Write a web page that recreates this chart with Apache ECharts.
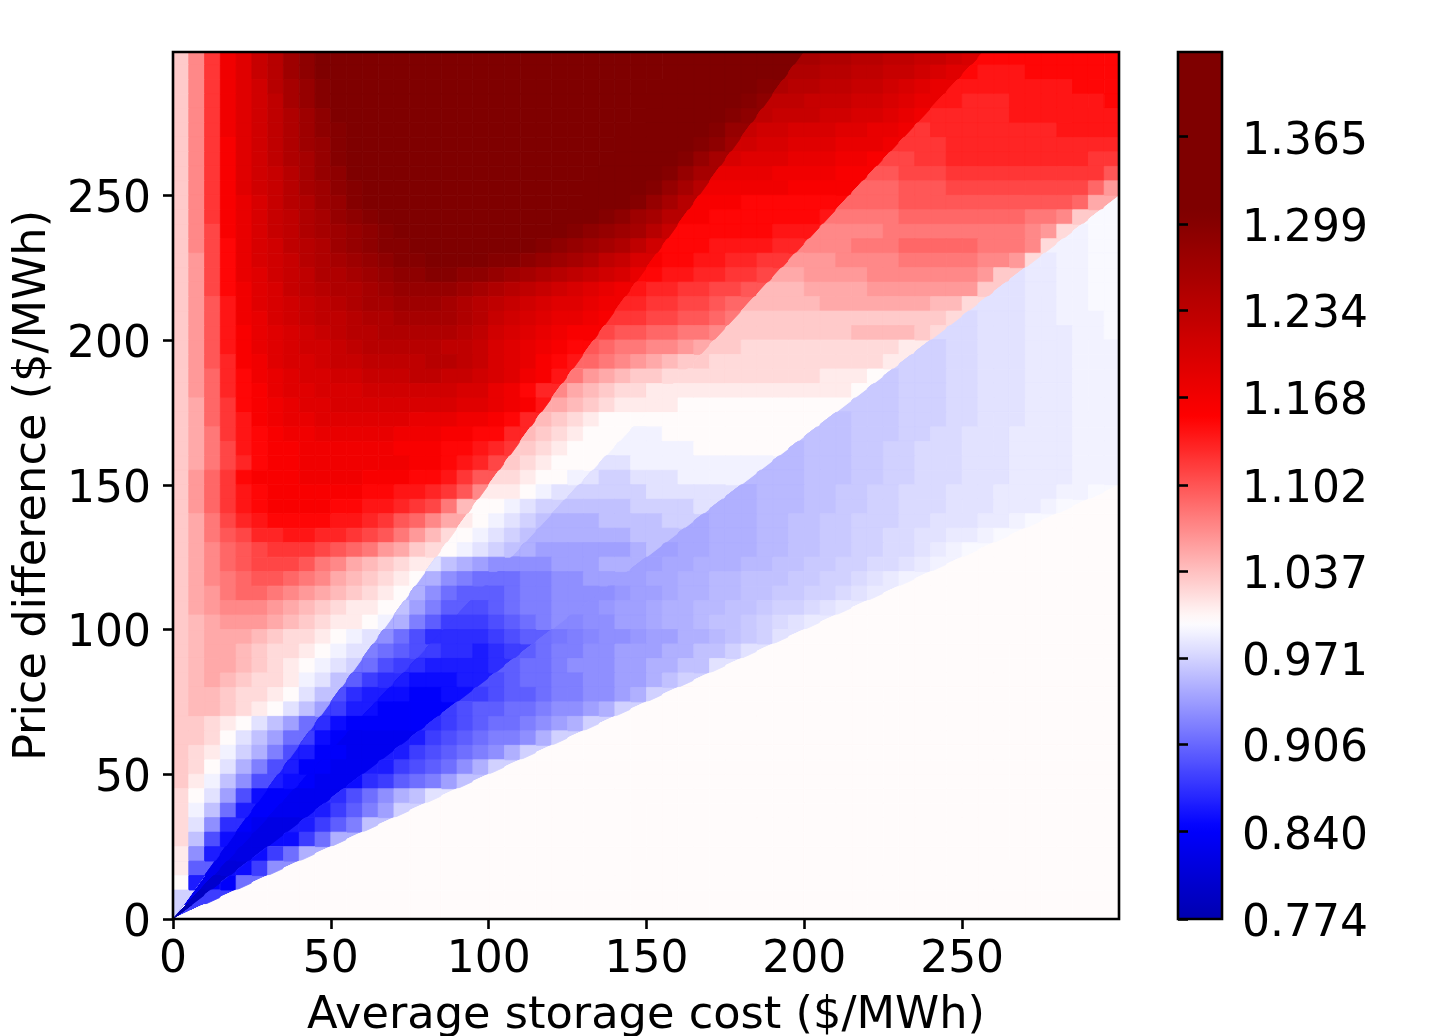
<!DOCTYPE html>
<html><head><meta charset="utf-8">
<style>html,body{margin:0;padding:0;background:#fff}#c{width:1450px;height:1036px}</style>
<script src="https://cdn.jsdelivr.net/npm/echarts@6/dist/echarts.min.js"></script>
</head><body><div id="c"></div>
<script>
// Ratio value in hundredths; rows run top (price difference 297.5) to bottom (2.5), columns left (storage cost 2.5) to right (297.5).
const ratioRows = [
[103,107,112,117,119,122,124,127,129,131,132,133,134,134,135,135,135,136,136,136,136,136,136,136,136,136,136,136,136,136,136,135,135,135,135,134,134,133,133,132,126,125,125,124,124,123,123,122,122,121,120,115,115,115,115,115,115,115,115,115],
[103,107,112,117,119,122,124,127,129,131,132,133,134,135,135,136,136,136,137,137,137,137,137,137,137,137,137,137,137,137,137,136,136,135,135,134,133,132,131,125,125,124,124,123,123,122,122,121,120,119,115,114,114,114,115,115,115,115,115,115],
[103,107,112,117,119,121,124,126,128,130,132,133,134,135,136,136,137,137,138,138,138,138,138,138,138,138,138,138,138,138,137,136,135,134,134,133,132,130,125,124,124,123,123,122,122,121,120,119,118,114,114,114,114,114,114,114,114,115,115,115],
[103,107,112,117,119,121,123,126,128,130,131,133,134,135,136,137,137,138,138,139,139,139,139,139,139,139,139,139,138,138,137,136,135,134,133,132,130,129,123,123,122,122,122,121,121,120,119,118,114,114,113,113,113,114,114,114,114,114,114,115],
[103,107,112,117,119,121,123,125,127,129,131,132,134,135,136,137,138,138,139,139,140,140,140,140,140,140,139,139,139,138,137,136,135,133,132,130,129,123,122,122,122,121,121,120,120,119,118,117,113,113,113,113,113,114,114,114,114,114,114,114],
[103,107,112,117,119,121,123,125,127,129,130,132,133,135,136,137,138,139,139,140,140,141,141,141,140,140,140,139,138,137,136,135,133,132,130,128,122,121,121,120,120,120,119,119,118,118,117,112,113,113,113,113,113,113,113,113,114,114,114,114],
[103,107,112,116,119,121,123,125,127,128,130,131,133,134,136,137,138,139,140,140,141,141,142,142,141,141,140,139,138,137,135,134,132,130,129,127,121,120,120,119,119,119,118,118,118,117,112,112,112,113,113,113,113,113,113,113,113,113,113,113],
[103,107,112,116,119,121,123,125,126,128,130,131,132,134,135,137,138,139,140,141,142,142,143,142,141,140,139,138,137,135,134,132,130,128,126,120,119,119,119,118,118,118,117,117,116,111,111,112,112,113,113,113,113,113,113,113,113,113,112,112],
[103,107,112,116,119,121,122,124,126,128,129,131,132,134,135,136,137,138,140,141,142,142,142,141,140,139,138,137,135,134,132,130,128,126,118,118,118,118,117,117,117,117,116,116,110,110,111,111,111,112,112,112,112,112,112,112,112,112,112,110],
[103,107,112,116,119,121,122,124,126,127,129,130,132,133,134,135,136,137,138,139,140,140,140,139,138,137,136,135,134,132,130,128,126,124,117,117,117,117,117,116,116,116,116,109,109,109,110,110,110,111,111,111,111,111,111,111,111,111,109,106],
[103,107,112,116,118,120,122,124,125,127,128,130,131,132,133,134,135,136,136,137,137,137,136,136,135,134,133,132,131,130,128,126,124,116,116,116,115,115,115,115,115,115,109,109,109,109,110,110,110,110,110,110,110,110,110,110,110,109,105,99.5],
[103,107,112,116,118,120,122,123,125,126,128,129,130,131,132,133,134,134,135,135,135,135,134,134,133,132,131,130,129,127,126,124,116,116,115,115,115,115,115,115,115,114,108,108,108,108,109,109,109,109,109,109,109,109,108,108,107,103,99.5,99.5],
[103,107,111,116,118,120,122,123,125,126,127,128,129,130,131,132,133,133,134,134,134,133,133,132,131,130,129,128,127,126,124,122,115,115,115,115,115,115,114,114,114,107,107,107,107,108,108,108,108,108,108,108,108,108,107,106,102,99,99.5,99.5],
[103,107,111,115,118,120,121,123,124,125,127,128,129,130,130,131,132,132,133,133,132,131,131,130,129,128,127,126,125,123,121,115,115,115,114,114,114,114,113,113,107,107,107,108,108,108,109,109,109,109,109,108,108,108,107,102,99,99,99.5,99.5],
[103,106,111,115,118,120,121,122,124,125,126,127,128,129,130,130,131,131,131,131,130,130,129,128,127,126,125,123,122,120,116,115,115,114,114,113,113,112,112,106,106,106,107,107,107,107,108,108,108,108,108,107,107,106,102,98.5,99,99,99.5,99.5],
[103,106,111,115,118,119,121,122,123,125,125,126,127,128,129,129,130,130,129,129,128,127,126,125,124,123,122,121,120,118,115,114,114,113,113,112,112,111,105,105,106,106,106,106,107,107,107,107,107,107,107,106,103,98,98.5,98.5,99,99,99.5,99.5],
[103,106,111,115,117,119,120,122,123,124,125,125,126,127,128,128,128,128,127,126,125,124,123,122,121,120,119,118,117,114,113,113,112,112,111,111,110,104,104,104,105,105,105,105,106,106,106,106,106,106,106,103,98,98,98.5,98.5,99,99,99.5,99.5],
[103,106,110,114,117,119,120,121,122,123,124,125,126,126,127,127,127,126,125,124,123,122,121,120,119,119,118,117,113,113,112,112,111,111,110,109,104,104,104,104,104,105,105,105,105,105,105,105,104,104,102,98,98,98,98.5,98.5,99,99,99.5,99.5],
[103,106,110,114,117,118,120,121,122,123,123,124,125,125,126,126,126,126,125,124,122,121,120,119,118,118,117,116,112,112,111,111,110,110,109,108,103,103,103,103,103,103,103,103,103,103,103,103,103,102,97.5,98,98,98,98.5,98.5,99,99,99,99.5],
[103,106,110,114,116,118,119,120,121,122,123,124,124,125,125,125,125,125,124,123,121,120,119,118,117,116,116,111,110,110,109,109,108,108,107,103,103,103,103,103,103,103,103,104,104,104,104,103,102,97.5,97.5,98,98,98,98.5,98.5,98.5,99,99,99.5],
[103,106,110,114,116,118,119,120,121,121,122,123,124,124,124,124,124,123,123,122,120,119,118,117,116,115,110,109,108,108,107,107,106,105,103,103,102,102,102,102,102,102,102,102,102,102,101,97,97,97.5,97.5,98,98,98,98.5,98.5,98.5,99,99,99],
[103,106,110,113,116,117,119,120,120,121,122,122,123,123,123,123,124,124,123,122,120,119,118,116,115,114,109,108,107,106,105,104,103,103,102,102,102,102,102,102,102,102,102,102,102,101,97,97,97,97.5,97.5,98,98,98,98.5,98.5,98.5,99,99,99],
[103,106,109,113,115,117,118,119,120,120,121,121,122,122,122,123,123,122,122,121,120,119,117,116,114,108,106,105,104,103,103,102,102,102,102,102,102,102,102,102,102,101,101,101,100,96.5,97,97,97,97.5,97.5,98,98,98,98.5,98.5,98.5,99,99,99],
[103,106,109,113,115,116,118,119,119,120,120,120,121,121,121,121,121,121,120,120,118,117,115,113,107,105,104,103,102,102,101,101,101,101,101,101,101,101,101,101,101,101,101,100,96.5,96.5,97,97,97,97.5,97.5,98,98,98,98.5,98.5,98.5,99,99,99],
[103,105,109,112,115,116,117,118,119,119,120,120,120,120,120,120,120,120,119,119,118,117,116,114,105,104,103,102,101,101,101,101,100,100,100,100,100,100,100,100,100,100,100,96.5,96.5,96.5,97,97,97,97.5,97.5,98,98,98,98.5,98.5,98.5,99,99,99],
[103,105,109,112,114,116,117,118,118,119,119,119,119,119,119,118,118,118,117,117,116,115,113,104,103,102,101,100,100,100,100,100,100,100,100,100,100,100,100,100,100,96,96,96.5,96.5,96.5,97,97,97,97.5,97.5,98,98,98,98.5,98.5,98.5,99,99,99],
[103,105,108,112,114,115,116,117,117,118,118,118,118,118,117,117,117,116,116,115,115,113,104,103,102,101,100,100,100,99,99,100,100,100,100,100,100,100,100,100,96,96,96,96.5,96.5,96.5,97,97,97.5,97.5,98,98,98,98.5,98.5,98.5,98.5,99,99,99],
[103,105,108,111,114,115,116,116,117,117,117,117,117,117,116,116,116,115,115,114,113,112,103,102,101,100,100,100,99,99,99,99,99,100,100,100,100,100,100,95.5,96,96,96,96.5,96.5,97,97,97.5,97.5,97.5,98,98,98,98.5,98.5,98.5,98.5,99,99,99],
[103,105,108,111,113,115,116,116,117,117,117,117,117,117,117,116,116,115,114,113,111,103,102,101,100,100,100,98,98,99,99,99,99,99,99,99,99,99,95.5,95.5,96,96,96,96.5,96.5,97,97,97.5,97.5,97.5,98,98,98,98.5,98.5,98.5,98.5,99,99,99],
[103,106,109,112,115,116,116,116,117,117,117,117,116,116,116,115,115,114,112,110,102,102,101,100,100,99,98,97,97,98,98,98,99,99,99,99,99,95.5,95.5,95.5,96,96,96,96.5,96.5,97,97,97.5,97.5,97.5,98,98,98,98.5,98.5,98.5,98.5,99,99,99],
[103,106,109,112,114,115,116,116,116,116,116,116,115,115,114,114,113,112,110,107,101,101,100,99,98,97,97,97,97,97,98,98,98,98,98,95,95,95.5,95.5,95.5,96,96,96.5,96.5,97,97,97.5,97.5,97.5,98,98,98,98.5,98.5,98.5,98.5,99,99,99.5,100],
[103,106,109,112,114,115,116,116,116,116,115,115,114,114,113,112,111,108,104,100,100,99,98,97,96,96,96,96,96,97,97,97,97,98,95,95,95,95.5,95.5,95.5,96,96,96.5,96.5,97,97,97.5,97.5,97.5,98,98,98,98.5,98.5,98.5,99,99.5,100,100,100],
[103,105,108,111,113,114,115,115,115,115,114,114,113,112,110,109,107,105,101,100,99,98,97,96,95,95,95,96,96,96,96,97,97,94.5,95,95,95,95.5,95.5,96,96,96.5,96.5,97,97,97,97.5,97.5,98,98,98,98.5,98.5,99,99.5,100,100,100,100,100],
[103,105,108,110,111,113,113,114,114,113,113,112,111,110,108,106,104,102,100,99,98,97,96,95,95,95,95,95,95,96,96,96,94.5,94.5,95,95,95,95.5,95.5,96,96,96.5,96.5,97,97,97.5,97.5,98,98,98.5,98.5,99,99.5,100,100,100,100,100,100,100],
[103,105,107,109,110,111,112,112,112,111,110,109,108,106,105,103,102,100,99,98,97,96,95,94,94,94,94,94,94,95,96,94,94.5,94.5,95,95,95,95.5,95.5,96,96,96.5,96.5,97,97,97.5,97.5,98,98.5,99,99.5,100,100,100,100,100,100,100,100,100],
[103,105,107,109,110,111,111,111,110,108,107,105,104,103,102,101,98,96,95,94,93,93,93,93,94,94,94,95,95,94,94,94.5,94.5,95,95,95,95.5,95.5,96,96,96.5,96.5,97,97,97.5,97.5,98,98.5,99,100,100,100,100,100,100,100,100,100,100,100],
[103,105,107,108,109,110,110,109,108,107,105,104,103,102,101,100,95,93,92,91,91,91,92,92,93,93,94,94,94,94,94.5,94.5,95,95,95.5,95.5,96,96,96,96.5,96.5,97,97,97.5,98,98.5,99,100,100,100,100,100,100,100,100,100,100,100,100,100],
[103,105,106,108,109,109,108,107,106,105,104,103,102,101,100,95,93,91,90,90,90,91,92,92,93,93,93,93,93.5,94,94,94.5,95,95,95.5,95.5,96,96,96.5,96.5,97,97,97.5,98,98.5,100,100,100,100,100,100,100,100,100,100,100,100,100,100,100],
[103,105,106,107,107,107,106,105,104,103,102,101,101,100,96,94,92,90,89,89,90,91,92,92,93,93,93,93.5,94,94,94.5,95,95,95.5,95.5,96,96,96.5,97,97,97.5,98,98.5,100,100,100,100,100,100,100,100,100,100,100,100,100,100,100,100,100],
[103,104,105,106,106,106,105,104,103,102,101,101,100,99,95,92,90,88,88,88,89,90,91,92,93,92.5,93,93,94,94,94.5,95,95,95.5,96,96,96.5,97,97.5,98,98.5,100,100,100,100,100,100,100,100,100,100,100,100,100,100,100,100,100,100,100],
[103,104,105,105,105,104,103,102,102,101,100,99,98,93,91,89,87,87,87,87,88,89,90,91,91.5,92,92.5,93,93,93.5,94,94,95,95,95.5,96,96.5,97,98,100,100,100,100,100,100,100,100,100,100,100,100,100,100,100,100,100,100,100,100,100],
[103,104,105,105,104,103,102,102,101,100,99,98,92,91,90,89,88,87,87,86,87,88,90,91,92,92,93,93,94,94,94,95,95,96,96,97,98,100,100,100,100,100,100,100,100,100,100,100,100,100,100,100,100,100,100,100,100,100,100,100],
[103,104,105,105,104,103,102,101,100,99,98,97,91,89,88,87,86,86,86,86,87,90,91,91,92,93,93,93,94,94,95,95,96,96,98,100,100,100,100,100,100,100,100,100,100,100,100,100,100,100,100,100,100,100,100,100,100,100,100,100],
[103,104,105,104,103,102,102,101,99,98,96,90,88,87,86,85,85,85,86,86,89,90,91,91,92,92,93,93,94,94,95,96,97,100,100,100,100,100,100,100,100,100,100,100,100,100,100,100,100,100,100,100,100,100,100,100,100,100,100,100],
[103,104,104,103,102,102,101,100,98,96,89,87,86,85,85,84,84,85,85,88,89,90,90,91,92,92,93,93,94,95,97,100,100,100,100,100,100,100,100,100,100,100,100,100,100,100,100,100,100,100,100,100,100,100,100,100,100,100,100,100],
[103,104,104,103,102,101,100,98,96,94,88,86,85,84,84,84,84,88,89,90,90,91,91,92,93,93,94,95,97,100,100,100,100,100,100,100,100,100,100,100,100,100,100,100,100,100,100,100,100,100,100,100,100,100,100,100,100,100,100,100],
[103,103,102,101,100,98,96,94,91,87,85,84,84,84,84,84,87,88,89,90,91,91,92,93,94,95,97,100,100,100,100,100,100,100,100,100,100,100,100,100,100,100,100,100,100,100,100,100,100,100,100,100,100,100,100,100,100,100,100,100],
[103,103,102,100,98,96,94,91,88,85,84,83,83,83,83,86,88,89,90,91,92,92,93,95,97,100,100,100,100,100,100,100,100,100,100,100,100,100,100,100,100,100,100,100,100,100,100,100,100,100,100,100,100,100,100,100,100,100,100,100],
[103,102,101,99,97,95,92,89,86,84,84,83,83,83,86,88,89,90,91,92,93,95,97,100,100,100,100,100,100,100,100,100,100,100,100,100,100,100,100,100,100,100,100,100,100,100,100,100,100,100,100,100,100,100,100,100,100,100,100,100],
[103,102,100,98,95,92,89,86,84,84,83,83,83,86,88,89,90,91,93,95,97,100,100,100,100,100,100,100,100,100,100,100,100,100,100,100,100,100,100,100,100,100,100,100,100,100,100,100,100,100,100,100,100,100,100,100,100,100,100,100],
[103,101,99,96,93,89,86,85,84,83,83,85,87,88,90,91,92,94,96,100,100,100,100,100,100,100,100,100,100,100,100,100,100,100,100,100,100,100,100,100,100,100,100,100,100,100,100,100,100,100,100,100,100,100,100,100,100,100,100,100],
[102,100,98,94,89,85,84,83,83,83,87,89,91,93,95,96,98,100,100,100,100,100,100,100,100,100,100,100,100,100,100,100,100,100,100,100,100,100,100,100,100,100,100,100,100,100,100,100,100,100,100,100,100,100,100,100,100,100,100,100],
[102,99,96,91,86,84,83,83,83,86,88,90,92,94,97,100,100,100,100,100,100,100,100,100,100,100,100,100,100,100,100,100,100,100,100,100,100,100,100,100,100,100,100,100,100,100,100,100,100,100,100,100,100,100,100,100,100,100,100,100],
[102,98,93,87,84,83,82,82,86,88,90,92,96,100,100,100,100,100,100,100,100,100,100,100,100,100,100,100,100,100,100,100,100,100,100,100,100,100,100,100,100,100,100,100,100,100,100,100,100,100,100,100,100,100,100,100,100,100,100,100],
[102,96,89,85,83,82,82,85,88,91,95,100,100,100,100,100,100,100,100,100,100,100,100,100,100,100,100,100,100,100,100,100,100,100,100,100,100,100,100,100,100,100,100,100,100,100,100,100,100,100,100,100,100,100,100,100,100,100,100,100],
[101,93,86,83,82,85,88,91,95,100,100,100,100,100,100,100,100,100,100,100,100,100,100,100,100,100,100,100,100,100,100,100,100,100,100,100,100,100,100,100,100,100,100,100,100,100,100,100,100,100,100,100,100,100,100,100,100,100,100,100],
[101,90,83,81,85,88,93,100,100,100,100,100,100,100,100,100,100,100,100,100,100,100,100,100,100,100,100,100,100,100,100,100,100,100,100,100,100,100,100,100,100,100,100,100,100,100,100,100,100,100,100,100,100,100,100,100,100,100,100,100],
[100,86,80,84,91,100,100,100,100,100,100,100,100,100,100,100,100,100,100,100,100,100,100,100,100,100,100,100,100,100,100,100,100,100,100,100,100,100,100,100,100,100,100,100,100,100,100,100,100,100,100,100,100,100,100,100,100,100,100,100],
[97,79,88,100,100,100,100,100,100,100,100,100,100,100,100,100,100,100,100,100,100,100,100,100,100,100,100,100,100,100,100,100,100,100,100,100,100,100,100,100,100,100,100,100,100,100,100,100,100,100,100,100,100,100,100,100,100,100,100,100],
[77,100,100,100,100,100,100,100,100,100,100,100,100,100,100,100,100,100,100,100,100,100,100,100,100,100,100,100,100,100,100,100,100,100,100,100,100,100,100,100,100,100,100,100,100,100,100,100,100,100,100,100,100,100,100,100,100,100,100,100]
];
const xTicks = [0,50,100,150,200,250];
const yTicks = [0,50,100,150,200,250];
const colorbarTicks = [0.774,0.840,0.906,0.971,1.037,1.102,1.168,1.234,1.299,1.365];
const wedgeRatios = [0, 0.5, 5/6, 7/6, 1.5, Infinity]; // price difference / storage cost at which the value jumps
const cellSize = 5;
const colorMin = 0.774, colorMax = 1.429;

function seismic(v){
  const t = Math.max(-2, Math.min(2, (v - 0.998) / 0.155));
  let r, g, b;
  if (t >= 1) { r = 255 - 128 * (t - 1); g = b = 0; }
  else if (t >= 0) { r = 255; g = b = 255 * (1 - t); }
  else if (t >= -1) { r = g = 255 * (1 + t); b = 255; }
  else { r = g = 0; b = 255 - 179 * (-t - 1); }
  return 'rgb(' + [r, g, b].map(Math.round).join(',') + ')';
}
const ramp = [];
for (let i = 0; i <= 131; i++) ramp.push(seismic(colorMin + (colorMax - colorMin) * i / 131));

function wedgeOf(x, y){
  const r = y / x;
  for (let i = 0; i < wedgeRatios.length - 1; i++) if (r < wedgeRatios[i + 1]) return i;
  return wedgeRatios.length - 2;
}
// keep the part of a polygon on one side of the ray y = ratio * x
function cut(poly, ratio, above){
  const out = [], f = p => (above ? 1 : -1) * (p[1] - ratio * p[0]);
  poly.forEach((p, i) => {
    const q = poly[(i + 1) % poly.length], a = f(p), b = f(q);
    if (a >= 0) out.push(p);
    if ((a >= 0) !== (b >= 0)) { const t = a / (a - b); out.push([p[0] + (q[0] - p[0]) * t, p[1] + (q[1] - p[1]) * t]); }
  });
  return out;
}

// every cell is painted inside its wedge; cells beside a jump are first painted wider (mostly along their own row)
// so the corners cut off by the neighbouring wedge are covered
const cells = [];
[[10, 10], [10, 0], [5, 0], [0, 0]].forEach(([mx, my]) => {
  ratioRows.forEach((row, i) => row.forEach((v, c) => {
    const x = (c + 0.5) * cellSize, y = (ratioRows.length - 1 - i + 0.5) * cellSize;
    if (mx) {
      const w = wedgeOf(x, y), hx = cellSize / 2 + mx, hy = cellSize / 2 + my;
      const lo = (y - hy) / (x + hx), hi = x - hx <= 0 ? Infinity : (y + hy) / (x - hx);
      if (lo >= wedgeRatios[w] && hi < wedgeRatios[w + 1]) return;
    }
    cells.push([x, y, v / 100, mx, my]);
  }));
});

function drawCell(params, api){
  const x = api.value(0), y = api.value(1), hx = cellSize / 2 + api.value(3), hy = cellSize / 2 + api.value(4), w = wedgeOf(x, y);
  let poly = [[x - hx, y - hy], [x + hx, y - hy], [x + hx, y + hy], [x - hx, y + hy]];
  if (wedgeRatios[w] > 0) poly = cut(poly, wedgeRatios[w], true);
  if (isFinite(wedgeRatios[w + 1]) && poly.length) poly = cut(poly, wedgeRatios[w + 1], false);
  if (poly.length < 3) return null;
  const color = api.visual('color');
  return { type: 'polygon', shape: { points: poly.map(p => api.coord(p)) },
    style: { fill: color, stroke: color, lineWidth: 0.8 } };
}

const font = 'DejaVu Sans', fs = 44, nameFs = 44.7, lw = 2.6;
const tick = { show: true, length: 10, lineStyle: { color: '#000', width: lw } };
const chart = echarts.init(document.getElementById('c'), null, { renderer: 'canvas' });
chart.setOption({
  animation: false,
  backgroundColor: '#fff',
  textStyle: { fontFamily: font },
  grid: [
    { left: 173, top: 52, width: 946, height: 867, show: true, z: 5, borderColor: '#000', borderWidth: lw, backgroundColor: 'transparent', outerBoundsMode: 'none', containLabel: false },
    { left: 1178, top: 52, width: 44, height: 867, show: true, z: 5, borderColor: '#000', borderWidth: lw, backgroundColor: 'transparent', outerBoundsMode: 'none', containLabel: false }
  ],
  xAxis: [
    { type: 'value', gridIndex: 0, position: 'bottom', min: 0, max: 299.7, z: 6,
      name: 'Average storage cost ($/MWh)', nameLocation: 'middle', nameGap: 75,
      nameTextStyle: { fontFamily: font, fontSize: nameFs, color: '#000' },
      axisLine: { show: false }, splitLine: { show: false },
      axisTick: Object.assign({}, tick, { customValues: xTicks }),
      axisLabel: { customValues: xTicks, fontFamily: font, fontSize: fs, color: '#000', margin: 20 } },
    { type: 'value', gridIndex: 1, min: 0, max: 1, show: false }
  ],
  yAxis: [
    { type: 'value', gridIndex: 0, position: 'left', min: 0, max: 299.5, z: 6,
      name: 'Price difference ($/MWh)', nameLocation: 'middle', nameGap: 92, nameRotate: 90,
      nameTextStyle: { fontFamily: font, fontSize: nameFs, color: '#000' },
      axisLine: { show: false }, splitLine: { show: false },
      axisTick: Object.assign({}, tick, { customValues: yTicks }),
      axisLabel: { customValues: yTicks, fontFamily: font, fontSize: fs, color: '#000', margin: 22, verticalAlign: 'top', lineHeight: 11 } },
    { type: 'value', gridIndex: 1, position: 'right', min: colorMin, max: colorMax, z: 6,
      axisLine: { show: false }, splitLine: { show: false },
      axisTick: Object.assign({}, tick, { customValues: colorbarTicks }),
      axisLabel: { customValues: colorbarTicks, fontFamily: font, fontSize: fs, color: '#000', margin: 20, verticalAlign: 'top', lineHeight: 11,
        formatter: v => v.toFixed(3) } }
  ],
  visualMap: {
    type: 'continuous', seriesIndex: 0, dimension: 2, min: colorMin, max: colorMax, calculable: false, hoverLink: false,
    left: 1178, top: 52, itemWidth: 44, itemHeight: 867, padding: 0, orient: 'vertical',
    inRange: { color: ramp }, outOfRange: { color: ramp[0] }, z: 2
  },
  series: [{
    type: 'custom', coordinateSystem: 'cartesian2d', xAxisIndex: 0, yAxisIndex: 0, data: cells,
    encode: { x: 0, y: 1 }, renderItem: drawCell, clip: true, silent: true, progressive: 0, animation: false
  }]
});
</script></body></html>
